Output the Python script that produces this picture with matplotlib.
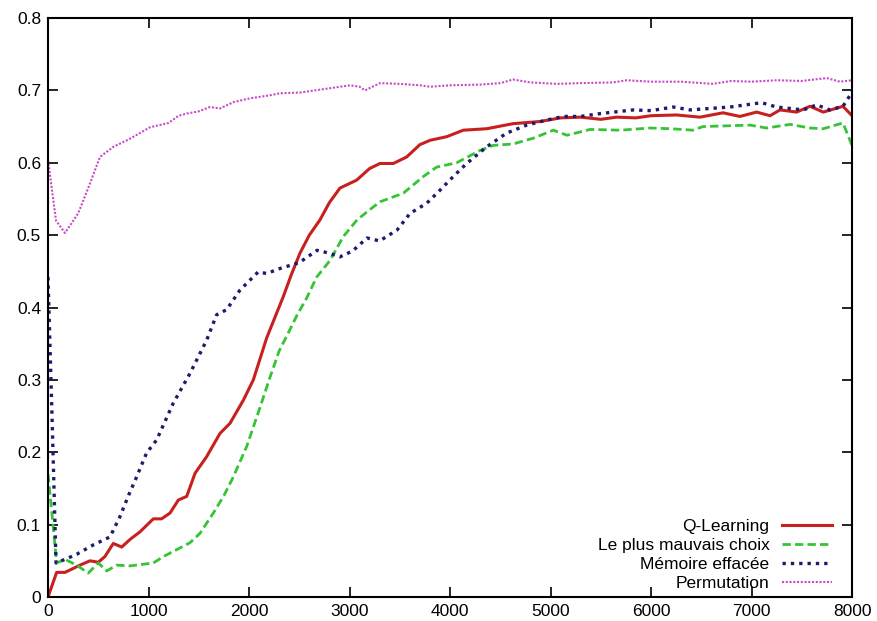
import matplotlib
matplotlib.use("Agg")
import matplotlib.pyplot as plt

plt.rcParams["font.family"] = ["Liberation Sans", "DejaVu Sans"]

# Q-Learning
q_x = [0, 86, 169, 318, 418, 500, 567, 650, 733, 820, 915, 1048, 1130, 1214, 1297,
       1380, 1463, 1579, 1711, 1811, 1944, 2043, 2176, 2341, 2420, 2507, 2600, 2706,
       2800, 2905, 3071, 3200, 3303, 3436, 3569, 3700, 3801, 3967, 4133, 4365, 4627,
       4896, 5100, 5300, 5500, 5658, 5850, 6000, 6255, 6487, 6716, 6885, 7051, 7184,
       7284, 7449, 7582, 7714, 7910, 8000]
q_y = [0.0, 0.034, 0.034, 0.044, 0.05, 0.048, 0.056, 0.074, 0.069, 0.08, 0.09, 0.108,
       0.108, 0.116, 0.134, 0.139, 0.171, 0.194, 0.226, 0.24, 0.272, 0.3, 0.358, 0.415,
       0.445, 0.475, 0.50, 0.521, 0.545, 0.565, 0.576, 0.592, 0.599, 0.599, 0.608,
       0.625, 0.631, 0.636, 0.645, 0.647, 0.654, 0.657, 0.662, 0.663, 0.66, 0.663,
       0.662, 0.665, 0.666, 0.663, 0.669, 0.664, 0.67, 0.665, 0.673, 0.67, 0.678,
       0.67, 0.678, 0.665]

# Le plus mauvais choix
w_x = [0, 50, 86, 169, 285, 400, 500, 584, 683, 816, 1048, 1150, 1247, 1413, 1512,
       1645, 1750, 1844, 1977, 2110, 2200, 2300, 2388, 2480, 2570, 2673, 2806, 2938,
       3075, 3200, 3303, 3536, 3735, 3867, 4067, 4299, 4431, 4630, 4830, 5028, 5164,
       5393, 5700, 5990, 6200, 6418, 6517, 6985, 7151, 7383, 7582, 7714, 7910, 8000]
w_y = [0.17, 0.10, 0.047, 0.052, 0.044, 0.033, 0.047, 0.036, 0.044, 0.043, 0.047,
       0.056, 0.063, 0.075, 0.088, 0.116, 0.14, 0.166, 0.208, 0.262, 0.30, 0.34,
       0.364, 0.39, 0.412, 0.442, 0.465, 0.498, 0.521, 0.535, 0.546, 0.558, 0.581,
       0.594, 0.6, 0.617, 0.624, 0.626, 0.634, 0.645, 0.638, 0.646, 0.645, 0.648,
       0.647, 0.645, 0.65, 0.652, 0.648, 0.653, 0.648, 0.647, 0.655, 0.624]

# Memoire effacee
m_x = [0, 40, 80, 169, 285, 451, 617, 716, 800, 882, 981, 1081, 1247, 1413, 1579,
       1678, 1778, 1910, 2090, 2176, 2310, 2500, 2677, 2800, 2905, 3030, 3174, 3300,
       3473, 3602, 3768, 3900, 4033, 4166, 4365, 4564, 4763, 4962, 5128, 5300, 5500,
       5823, 6000, 6221, 6388, 6786, 7101, 7250, 7516, 7648, 7780, 7910, 7980, 8000]
m_y = [0.442, 0.25, 0.047, 0.052, 0.059, 0.072, 0.083, 0.111, 0.14, 0.166, 0.199,
       0.217, 0.268, 0.309, 0.355, 0.39, 0.397, 0.424, 0.449, 0.447, 0.454, 0.462,
       0.479, 0.475, 0.47, 0.478, 0.496, 0.492, 0.507, 0.53, 0.544, 0.562, 0.581,
       0.599, 0.622, 0.641, 0.652, 0.659, 0.664, 0.664, 0.668, 0.673, 0.672, 0.677,
       0.673, 0.677, 0.683, 0.677, 0.673, 0.68, 0.673, 0.678, 0.693, 0.70]

# Permutation
p_x = [0, 80, 169, 300, 400, 517, 650, 800, 1015, 1200, 1300, 1383, 1500, 1612, 1711,
       1850, 2010, 2200, 2308, 2507, 2806, 3005, 3100, 3154, 3303, 3500, 3701, 3801,
       4000, 4300, 4500, 4627, 4800, 5065, 5294, 5622, 5758, 6000, 6300, 6617, 6800,
       7000, 7250, 7500, 7748, 7880, 8000]
p_y = [0.604, 0.52, 0.503, 0.53, 0.565, 0.608, 0.622, 0.632, 0.649, 0.655, 0.665,
       0.668, 0.671, 0.677, 0.675, 0.684, 0.689, 0.693, 0.696, 0.697, 0.703, 0.707,
       0.705, 0.70, 0.71, 0.709, 0.707, 0.705, 0.707, 0.708, 0.71, 0.715, 0.711,
       0.709, 0.71, 0.711, 0.714, 0.712, 0.712, 0.709, 0.713, 0.712, 0.714, 0.713,
       0.717, 0.712, 0.714]

x_ticks = [0, 1000, 2000, 3000, 4000, 5000, 6000, 7000, 8000]
y_ticks = [0, 0.1, 0.2, 0.3, 0.4, 0.5, 0.6, 0.7, 0.8]
y_labels = ["0", "0.1", "0.2", "0.3", "0.4", "0.5", "0.6", "0.7", "0.8"]

fig = plt.figure(figsize=(8.77, 6.21), dpi=100)
ax = fig.add_axes([48 / 877, 24 / 621, 804 / 877, 579 / 621])

ax.plot(q_x, q_y, color="#c8201e", lw=2.2, label="Q-Learning")
ax.plot(w_x, w_y, color="#35c435", lw=2.0, ls=(0, (3, 1.5)), label="Le plus mauvais choix")
ax.plot(m_x, m_y, color="#1c1c6e", lw=2.4, ls=(0, (1, 1.5)), label="Mémoire effacée")
ax.plot(p_x, p_y, color="#c84ac8", lw=1.5, ls=(0, (1, 0.8)), label="Permutation")

ax.set_xlim(0, 8000)
ax.set_ylim(0, 0.8)
ax.set_xticks(x_ticks)
ax.set_yticks(y_ticks)
ax.set_yticklabels(y_labels)
ax.tick_params(direction="in", length=7, width=1.2, top=True, right=True,
               labelsize=12.5, pad=5, colors="black")
for s in ax.spines.values():
    s.set_linewidth(1.5)

leg = ax.legend(loc="lower right", bbox_to_anchor=(0.975, 0.01), frameon=False,
                markerfirst=False, fontsize=12.5, handlelength=2.9,
                handletextpad=0.7, labelspacing=0.22, borderpad=0, borderaxespad=0)

fig.savefig("out.png", dpi=100)
